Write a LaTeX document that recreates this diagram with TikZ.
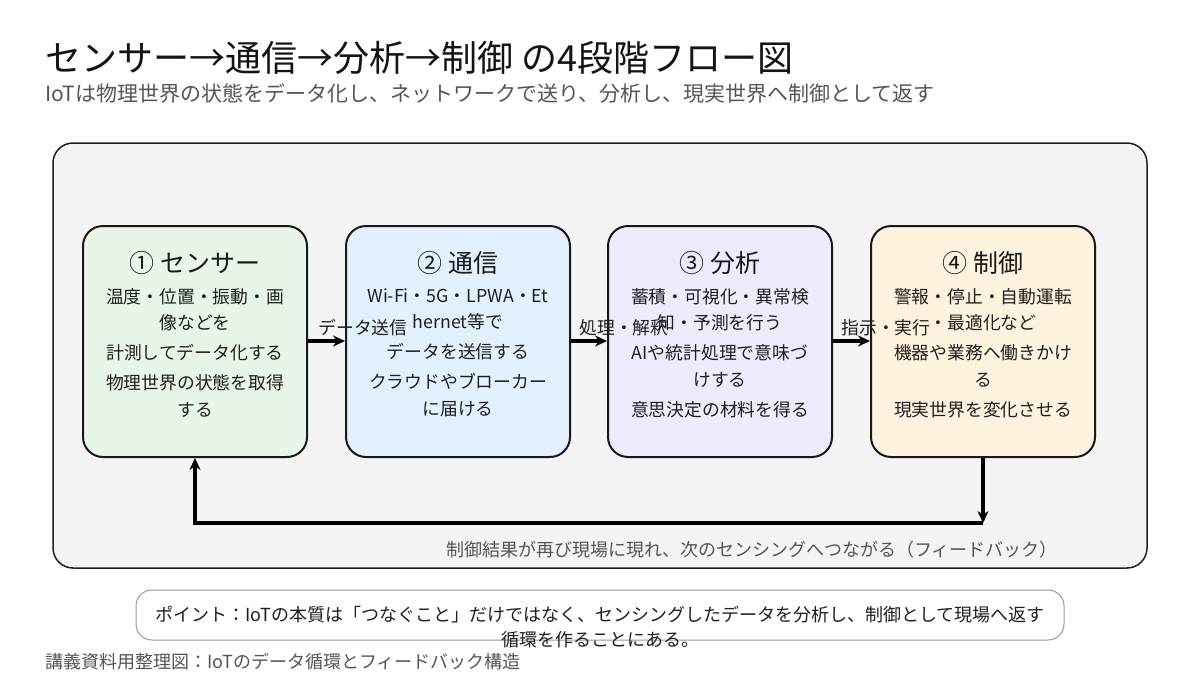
\documentclass[tikz,border=0pt]{standalone}
\usepackage{fontspec}
\setmainfont{Noto Sans CJK JP}
\usetikzlibrary{arrows.meta}
\definecolor{panelfill}{HTML}{F4F4F4}
\definecolor{gtxt}{HTML}{555555}
\definecolor{fillA}{HTML}{E8F5E9}
\definecolor{fillB}{HTML}{E3F0FD}
\definecolor{fillC}{HTML}{EFEAFC}
\definecolor{fillD}{HTML}{FFF3E0}
\tikzset{
  stagebox/.style={draw=black!90, line width=2pt, rounded corners=20pt, minimum width=224pt, minimum height=231pt, inner sep=0pt},
  stagetitle/.style={font=\fontsize{25}{30}\selectfont, text=black!90, inner sep=0pt},
  stagebody/.style={font=\fontsize{17.8}{24}\selectfont, text=black!88, align=center, inner sep=0pt, anchor=north},
  flow/.style={line width=3.5pt, -{Stealth[length=12pt,width=11pt]}},
  flowlabel/.style={font=\fontsize{17.8}{22}\selectfont, text=black!88, inner sep=0pt},
  graytext/.style={font=\fontsize{18}{22}\selectfont, text=gtxt, inner sep=0pt},
}
\begin{document}
\begin{tikzpicture}[x=1pt,y=-1pt]
\useasboundingbox (0,0) rectangle (1200,675);
\fill[white] (0,0) rectangle (1200,675);

% titles
\node[anchor=west, inner sep=0pt, font=\fontsize{36}{42}\selectfont, text=black!92] (title) at (45,58) {センサー→通信→分析→制御 の4段階フロー図};
\node[anchor=west, inner sep=0pt, font=\fontsize{21}{26}\selectfont, text=gtxt] (subtitle) at (45,93) {IoTは物理世界の状態をデータ化し、ネットワークで送り、分析し、現実世界へ制御として返す};

% panel
\node[draw=black!88, line width=1.5pt, fill=panelfill, rounded corners=20pt, minimum width=1094pt, minimum height=425pt, inner sep=0pt] (panel) at (600,355.5) {};

% boxes
\node[stagebox, fill=fillA] (b1) at (195,341.5) {};
\node[stagebox, fill=fillB] (b2) at (458,341.5) {};
\node[stagebox, fill=fillC] (b3) at (720,341.5) {};
\node[stagebox, fill=fillD] (b4) at (983,341.5) {};

\node[stagetitle] (t1) at (195,263) {① センサー};
\node[stagetitle] (t2) at (458,263) {② 通信};
\node[stagetitle] (t3) at (720,263) {③ 分析};
\node[stagetitle] (t4) at (983,263) {④ 制御};

\node[stagebody] (d1) at (195,288) {温度・位置・振動・画\\[2.5pt]像などを\\[6pt]計測してデータ化する\\[6pt]物理世界の状態を取得\\[2.5pt]する};
\node[stagebody] (d2) at (458,288) {Wi-Fi・5G・LPWA・Et\\[2.5pt]hernet等で\\[6pt]データを送信する\\[6pt]クラウドやブローカー\\[2.5pt]に届ける};
\node[stagebody] (d3) at (720,288) {蓄積・可視化・異常検\\[2.5pt]知・予測を行う\\[6pt]AIや統計処理で意味づ\\[2.5pt]けする\\[6pt]意思決定の材料を得る};
\node[stagebody] (d4) at (983,288) {警報・停止・自動運転\\[2.5pt]・最適化など\\[6pt]機器や業務へ働きかけ\\[2.5pt]る\\[6pt]現実世界を変化させる};

% arrows between boxes
\draw[flow] (b1.east |- 0,341) -- (b2.west |- 0,341);
\draw[flow] (b2.east |- 0,341) -- (b3.west |- 0,341);
\draw[flow] (b3.east |- 0,341) -- (b4.west |- 0,341);
\node[flowlabel] (l1) at (363,328) {データ送信};
\node[flowlabel] (l2) at (624,328) {処理・解釈};
\node[flowlabel] (l3) at (886,328) {指示・実行};

% feedback
\coordinate (fbR) at (983,523);
\coordinate (fbL) at (195,523);
\draw[flow] (b4.south) -- (fbR);
\draw[flow] (fbR) -- (fbL) -- (b1.south);
\node[graytext] (fbtext) at (752,550) {制御結果が再び現場に現れ、次のセンシングへつながる（フィードバック）};

% point box
\node[draw=black!40, line width=1pt, fill=white, rounded corners=16pt, minimum width=928pt, minimum height=50pt, inner sep=0pt] (pointbox) at (600,615) {};
\node[font=\fontsize{18}{23}\selectfont, text=black!88, align=center, inner sep=0pt, anchor=north] (pointtext) at (600,606) {ポイント：IoTの本質は「つなぐこと」だけではなく、センシングしたデータを分析し、制御として現場へ返す\\[1.5pt]循環を作ることにある。};

% footer
\node[anchor=west, graytext] (footer) at (45,662) {講義資料用整理図：IoTのデータ循環とフィードバック構造};
\end{tikzpicture}
\end{document}
